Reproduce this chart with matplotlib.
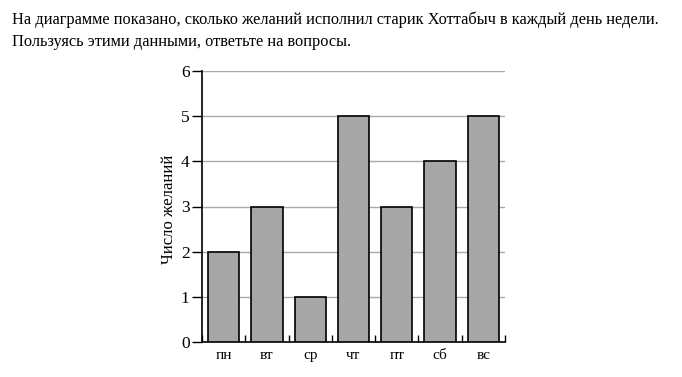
import matplotlib
matplotlib.use("Agg")
import matplotlib.pyplot as plt
import numpy as np

days = ["пн", "вт", "ср", "чт", "пт", "сб", "вс"]
wishes = [2, 3, 1, 5, 3, 4, 5]
y_ticks = [0, 1, 2, 3, 4, 5, 6]
title_lines = ["На диаграмме показано, сколько желаний исполнил старик Хоттабыч в каждый день недели.",
               "Пользуясь этими данными, ответьте на вопросы."]
ylabel = "Число желаний"

plt.rcParams['font.family'] = ['Liberation Serif', 'DejaVu Serif']

fig = plt.figure(figsize=(6.82, 3.77), dpi=100)
fig.text(12/682, 1 - 24/377, title_lines[0], fontsize=11.8, va='baseline', ha='left')
fig.text(12/682, 1 - 46/377, title_lines[1], fontsize=11.8, va='baseline', ha='left')

ax = fig.add_axes([202/682, 1 - 342/377, 303/682, 271/377])
x = np.arange(len(days))
ax.bar(x, wishes, width=0.72, color='#a6a6a6', edgecolor='black', linewidth=1.2, zorder=3)
ax.set_xlim(-0.5, len(days) - 0.5)
ax.set_ylim(0, 6)
ax.set_yticks(y_ticks)
ax.yaxis.grid(True, color='#aaaaaa', linewidth=1.0, zorder=0)
ax.set_xticks(x)
ax.set_xticklabels(days, fontsize=11)
ax.tick_params(axis='x', length=0, pad=5)
ax.set_xticks(np.arange(-0.5, len(days), 1), minor=True)
ax.tick_params(axis='x', which='minor', direction='in', length=5, width=1, color='black')
ax.tick_params(axis='y', direction='out', length=7, width=1, labelsize=12.5, pad=2)
for s in ['top', 'right']:
    ax.spines[s].set_visible(False)
ax.spines['left'].set_linewidth(1.2)
ax.spines['bottom'].set_linewidth(1.2)
ax.set_ylabel(ylabel, fontsize=12)
ax.yaxis.set_label_coords(-0.083, 0.49)

fig.savefig("out.png", dpi=100)
